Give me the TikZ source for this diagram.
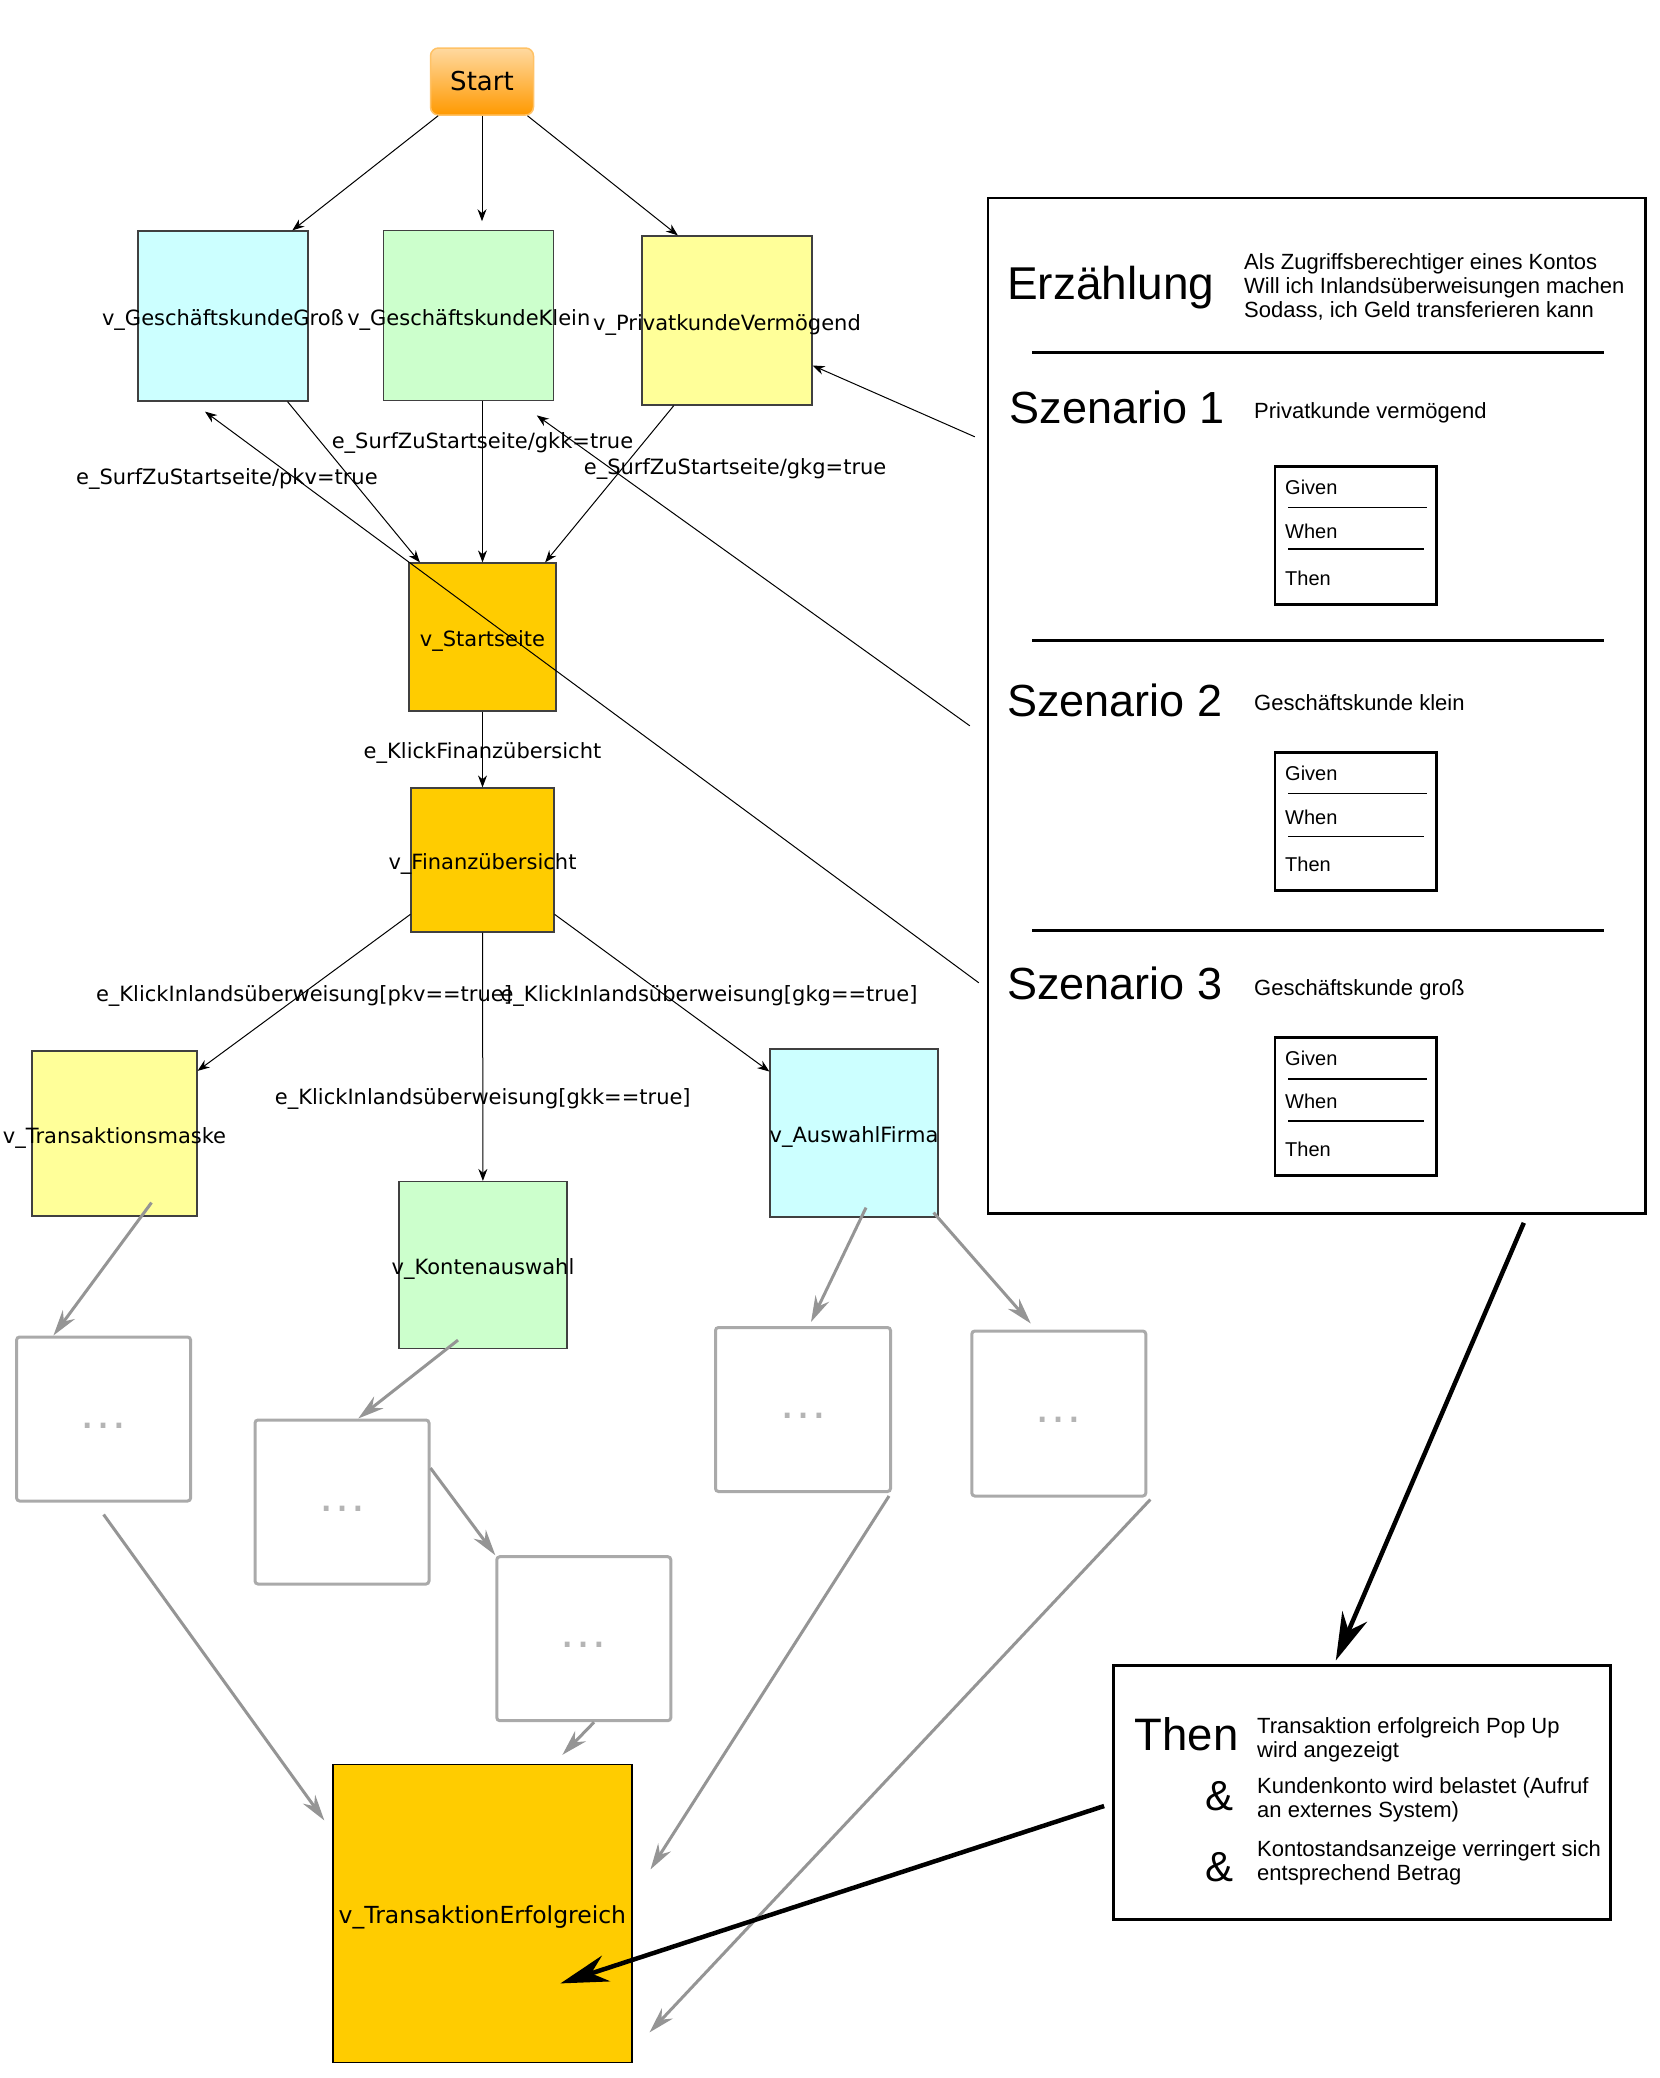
\documentclass[tikz,border=0pt]{standalone}
\usepackage{fontspec}
\setmainfont{Liberation Sans}
\newfontfamily\graphfont{DejaVu Sans}
\usetikzlibrary{arrows.meta}

\definecolor{kundegross}{HTML}{CCFFFF}
\definecolor{kundeklein}{HTML}{CCFFCC}
\definecolor{kundeprivat}{HTML}{FFFF99}
\definecolor{seitegelb}{HTML}{FFCC00}
\definecolor{startlight}{HTML}{FFD9A0}
\definecolor{startmid}{HTML}{FFB040}
\definecolor{startdark}{HTML}{FF9900}
\definecolor{greyline}{HTML}{AAAAAA}
\definecolor{greyarrow}{HTML}{959595}
\definecolor{greydots}{HTML}{B4B4B4}

\begin{document}
\begin{tikzpicture}[x=1pt,y=-1pt,>={Stealth[length=12pt,width=9pt]},font=\graphfont\fontsize{21}{25}\selectfont,
  every label/.style={yshift=-4pt},
  main node/.style={draw=black!75,line width=1.2pt,minimum width=170pt,minimum height=170pt,inner sep=0pt},
  grey node/.style={draw=greyline,line width=3pt,rounded corners=3pt,minimum width=174pt,minimum height=164pt,inner sep=0pt,text=greydots,font=\fontsize{50}{50}\selectfont},
  main edge/.style={->,line width=1pt},
  grey edge/.style={-{Stealth[length=26pt,width=15pt]},color=greyarrow,line width=3pt},
  big edge/.style={-{Stealth[length=48pt,width=27pt]},line width=4.5pt},
  story box/.style={draw,line width=2.5pt,inner sep=0pt},
  title text/.style={anchor=base west,inner sep=0pt,font=\fontsize{45}{50}\selectfont},
  small text/.style={inner sep=0pt,font=\fontsize{22}{24}\selectfont},
  gwt text/.style={anchor=base west,inner sep=0pt,font=\fontsize{20}{22}\selectfont}]
\useasboundingbox (0,0) rectangle (1660,2078);

\node[draw=startdark!60,line width=1.5pt,rounded corners=8pt,top color=startlight,middle color=startmid,bottom color=startdark,minimum width=103pt,minimum height=67pt,font=\graphfont\fontsize{26}{30}\selectfont] (start) at (482,81.5) {Start};
\node[main node,fill=kundegross,label={center:v\_GeschäftskundeGroß}] (gross) at (223,316) {};
\node[main node,fill=kundeklein,label={center:v\_GeschäftskundeKlein}] (klein) at (468.8,315.8) {};
\node[main node,fill=kundeprivat,minimum height=169pt,label={center:v\_PrivatkundeVermögend}] (privat) at (727,320.5) {};
\node[main node,fill=seitegelb,minimum width=147pt,minimum height=148pt,label={center:v\_Startseite}] (startseite) at (482.5,637) {};
\node[main node,fill=seitegelb,minimum width=143pt,minimum height=144pt,label={center:v\_Finanzübersicht}] (finanz) at (482.5,860) {};
\node[main node,fill=kundeprivat,minimum width=165pt,minimum height=165pt,label={center:v\_Transaktionsmaske}] (tmaske) at (114.5,1133.5) {};
\node[main node,fill=kundeklein,minimum width=168pt,minimum height=167pt,label={center:v\_Kontenauswahl}] (konten) at (483,1265) {};
\node[main node,fill=kundegross,minimum width=168pt,minimum height=168pt,label={center:v\_AuswahlFirma}] (firma) at (854,1133) {};
\node[grey node] (g1) at (103.6,1419) {\smash{\raisebox{-9pt}{…}}};
\node[grey node] (g2) at (342,1502) {\smash{\raisebox{-9pt}{…}}};
\node[grey node] (g3) at (583.8,1638.7) {\smash{\raisebox{-9pt}{…}}};
\node[grey node,minimum width=175pt] (g4) at (803,1409.5) {\smash{\raisebox{-9pt}{…}}};
\node[grey node,minimum height=165pt] (g5) at (1058.8,1413.5) {\smash{\raisebox{-9pt}{…}}};
\node[main node,draw=black,fill=seitegelb,minimum width=299pt,minimum height=298pt,label={[font=\graphfont\fontsize{23.5}{28}\selectfont]center:v\_TransaktionErfolgreich}] (te) at (482.4,1913.4) {};

\node[story box,minimum width=657.5pt,minimum height=1015.5pt] (panel) at (1316.8,705.8) {};
\node[title text,font=\fontsize{46}{50}\selectfont] (erz) at (1007,299) {Erzählung};
\node[small text,anchor=west,align=left] (story) at (1244,287) {Als Zugriffsberechtiger eines Kontos\\Will ich Inlandsüberweisungen machen\\Sodass, ich Geld transferieren kann};
\draw[line width=3.5pt] (1032,352.5) -- (1604,352.5);
\draw[line width=3.5pt] (1032,640.5) -- (1604,640.5);
\draw[line width=3.5pt] (1032,930.5) -- (1604,930.5);

\node[title text] (sz1) at (1009.5,423) {Szenario 1};
\node[small text,anchor=base west] (sub1) at (1254,418) {Privatkunde vermögend};
\node[story box,minimum width=161.6pt,minimum height=138pt] (gwt1) at (1355.8,535.7) {};
\node[gwt text] (given1) at (1285,494.6) {Given};
\draw[line width=1.5pt] (1288,507.5) -- (1427,507.5);
\node[gwt text] (when1) at (1285,538.2) {When};
\draw[line width=1.5pt] (1288,549) -- (1424,549);
\node[gwt text] (then1) at (1285,585.2) {Then};

\node[title text] (sz2) at (1007,716) {Szenario 2};
\node[small text,anchor=base west] (sub2) at (1254,710) {Geschäftskunde klein};
\node[story box,minimum width=161.6pt,minimum height=138pt] (gwt2) at (1355.8,821.4) {};
\node[gwt text] (given2) at (1285,780.6) {Given};
\draw[line width=1.5pt] (1288,793.5) -- (1427,793.5);
\node[gwt text] (when2) at (1285,824.2) {When};
\draw[line width=1.5pt] (1288,836.4) -- (1424,836.4);
\node[gwt text] (then2) at (1285,871.2) {Then};

\node[title text] (sz3) at (1007,999) {Szenario 3};
\node[small text,anchor=base west] (sub3) at (1254,995) {Geschäftskunde groß};
\node[story box,minimum width=161.6pt,minimum height=138pt] (gwt3) at (1355.8,1106.3) {};
\node[gwt text] (given3) at (1285,1065.2) {Given};
\draw[line width=1.5pt] (1288,1078.9) -- (1427,1078.9);
\node[gwt text] (when3) at (1285,1108.8) {When};
\draw[line width=1.5pt] (1288,1121) -- (1424,1121);
\node[gwt text] (then3) at (1285,1156.2) {Then};

\node[story box,line width=3pt,minimum width=496.4pt,minimum height=254pt] (thenbox) at (1361.8,1792) {};
\node[title text,font=\fontsize{45.5}{50}\selectfont] (thenword) at (1134.6,1750) {Then};
\node[title text,font=\fontsize{42}{50}\selectfont] (amp1) at (1205,1810) {\&};
\node[title text,font=\fontsize{42}{50}\selectfont] (amp2) at (1205,1881.7) {\&};
\node[small text,anchor=west,align=left] (res1) at (1257,1739.6) {Transaktion erfolgreich Pop Up\\wird angezeigt};
\node[small text,anchor=west,align=left] (res2) at (1257,1799.3) {Kundenkonto wird belastet (Aufruf\\an externes System)};
\node[small text,anchor=west,align=left] (res3) at (1257,1863) {Kontostandsanzeige verringert sich\\entsprechend Betrag};

\path[main edge,every node/.style={yshift=-3pt}]
  (start.-142) edge (gross.51)
  (start.south) edge[shorten >=9pt] (start.south |- klein.north)
  (start.-37) edge (privat.120)
  (gross.-53) edge node[pos=.46,xshift=-121.5pt] {e\_SurfZuStartseite/pkv=true} (startseite.130)
  (startseite.north |- klein.south) edge node[pos=.24] {e\_SurfZuStartseite/gkk=true} (startseite.north)
  (privat.-122) edge node[pos=.386,xshift=111pt] {e\_SurfZuStartseite/gkg=true} (startseite.50)
  (startseite) edge node {e\_KlickFinanzübersicht} (finanz)
  (finanz.-143) edge node {e\_KlickInlandsüberweisung[pkv==true]} (tmaske.37)
  (finanz) edge node[pos=.66] {e\_KlickInlandsüberweisung[gkk==true]} (konten)
  (finanz.-37) edge node[xshift=47pt] {e\_KlickInlandsüberweisung[gkg==true]} (firma.144);

\path[grey edge]
  ([xshift=37pt,yshift=14pt]tmaske.south) edge (g1.121)
  ([xshift=-25pt,yshift=9pt]konten.south) edge (g2.79)
  (g2.21) edge (g3.north west)
  (g3.-83) edge ([xshift=80pt,yshift=9pt]te.north)
  ([yshift=-12pt]g1.south) edge ([xshift=-8pt,yshift=93pt]te.west)
  ([xshift=-3pt,yshift=-3pt]g4.south east) edge ([xshift=18pt,yshift=44pt]te.east)
  ([xshift=3pt,yshift=-2pt]g5.south east) edge ([xshift=17pt,yshift=-119pt]te.east)
  ([xshift=12pt,yshift=10pt]firma.south) edge ([xshift=8pt,yshift=4pt]g4.north)
  ([xshift=-5pt,yshift=5pt]firma.south east) edge ([xshift=-28pt,yshift=6pt]g5.north);

\path[main edge]
  ([xshift=-12pt,yshift=269pt]panel.west) edge ([yshift=-45pt]privat.east)
  ([xshift=-17pt,yshift=-20pt]panel.west) edge ([xshift=68pt,yshift=-14pt]klein.south)
  ([xshift=-8pt,yshift=-277pt]panel.west) edge ([xshift=-18pt,yshift=-10pt]gross.south);

\path[big edge]
  ([xshift=207pt,yshift=-8pt]panel.south) edge ([xshift=-26pt,yshift=3pt]thenbox.north)
  ([xshift=-8pt,yshift=-14pt]thenbox.west) edge ([xshift=78pt,yshift=-70pt]te.center);
\end{tikzpicture}
\end{document}
